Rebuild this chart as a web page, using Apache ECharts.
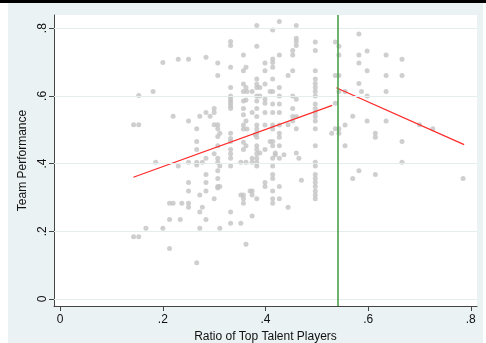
<!DOCTYPE html>
<html>
<head>
<meta charset="utf-8">
<script src="https://cdn.jsdelivr.net/npm/echarts@6/dist/echarts.min.js"></script>
<style>
  html, body { margin: 0; padding: 0; background: #fff; }
  #wrap { position: relative; width: 486px; height: 343px; overflow: hidden; background: #fff; }
  #bg { position: absolute; left: 8px; top: 3px; width: 475px; height: 340px; background: #eaf2f3; }
  #bar { position: absolute; left: 0; top: 0; width: 486px; height: 3px; background: #000; }
  #chart { position: absolute; left: 0; top: 0; width: 486px; height: 343px; }
</style>
</head>
<body>
<div id="wrap">
  <div id="bg"></div>
  <div id="bar"></div>
  <div id="chart"></div>
</div>
<script>
// Ratio columns (x) and team performance values (y) observed at each ratio
const ratioValues = [
  0.143, 0.153, 0.167, 0.181, 0.186, 0.200, 0.213, 0.220, 0.230, 0.234,
  0.237, 0.250, 0.266, 0.272, 0.277, 0.284, 0.292, 0.300, 0.307, 0.311,
  0.332, 0.352, 0.357, 0.362, 0.364, 0.370, 0.374, 0.380, 0.383, 0.389,
  0.399, 0.409, 0.414, 0.419, 0.427, 0.436, 0.444, 0.453, 0.460, 0.465,
  0.470, 0.497, 0.529, 0.536, 0.543, 0.555, 0.570, 0.582, 0.587, 0.598,
  0.614, 0.635, 0.666, 0.700, 0.726, 0.785
];
const performanceByRatio = [
  [0.515, 0.184],
  [0.515, 0.184, 0.601],
  [0.209],
  [0.613],
  [0.404],
  [0.699, 0.209],
  [0.283, 0.235, 0.149],
  [0.540, 0.283],
  [0.708, 0.393],
  [0.235],
  [0.283],
  [0.708, 0.526, 0.404, 0.344, 0.319, 0.283, 0.271],
  [0.503, 0.465, 0.442, 0.404, 0.396, 0.107],
  [0.540, 0.307, 0.257, 0.209],
  [0.404, 0.271],
  [0.714, 0.551, 0.416, 0.368, 0.344, 0.319, 0.235],
  [0.540],
  [0.563, 0.551, 0.515, 0.429, 0.296],
  [0.697, 0.660, 0.515, 0.503, 0.480, 0.453, 0.416, 0.404, 0.379, 0.356, 0.332, 0.328],
  [0.490, 0.393, 0.332, 0.209],
  [0.761, 0.749, 0.685, 0.625, 0.600, 0.592, 0.585, 0.578, 0.570, 0.563, 0.490, 0.474, 0.465, 0.442, 0.429, 0.416, 0.393, 0.257, 0.224],
  [0.224, 0.307, 0.404],
  [0.721, 0.674, 0.635, 0.613, 0.585, 0.563, 0.544, 0.514, 0.502, 0.463, 0.442, 0.307, 0.296, 0.283],
  [0.685, 0.625, 0.588, 0.526, 0.453, 0.404, 0.162],
  [0.613, 0.502],
  [0.319],
  [0.613, 0.551, 0.416, 0.404, 0.319, 0.307, 0.245],
  [0.485],
  [0.808, 0.747, 0.650, 0.635, 0.625, 0.600, 0.585, 0.563, 0.539, 0.514, 0.502, 0.490, 0.478, 0.453, 0.442, 0.429, 0.416, 0.404, 0.393, 0.296],
  [0.625, 0.600, 0.431],
  [0.697, 0.674, 0.635, 0.590, 0.578, 0.551, 0.514, 0.442, 0.344, 0.332],
  [0.613, 0.465],
  [0.795, 0.709, 0.699, 0.685, 0.650, 0.613, 0.576, 0.551, 0.514, 0.502, 0.465, 0.453, 0.416, 0.393, 0.368, 0.356, 0.319, 0.296, 0.283],
  [0.431, 0.426],
  [0.820, 0.721, 0.625, 0.600, 0.576, 0.551, 0.514, 0.490, 0.478, 0.453, 0.416, 0.332, 0.296],
  [0.426],
  [0.660, 0.515, 0.271],
  [0.734, 0.721, 0.674, 0.600, 0.563, 0.539, 0.526],
  [0.808, 0.770, 0.761, 0.749, 0.590, 0.539, 0.503, 0.431],
  [0.416],
  [0.351],
  [0.759, 0.734, 0.674, 0.650, 0.637, 0.625, 0.613, 0.600, 0.576, 0.563, 0.551, 0.539, 0.526, 0.503, 0.453, 0.404, 0.393, 0.368, 0.356, 0.344, 0.332, 0.319, 0.307, 0.296],
  [0.490],
  [0.759, 0.660, 0.578, 0.503],
  [0.747, 0.721, 0.660, 0.613, 0.503, 0.490],
  [0.613, 0.514, 0.453],
  [0.540, 0.356],
  [0.783, 0.721, 0.697, 0.637, 0.379],
  [0.613],
  [0.733, 0.674, 0.600, 0.526],
  [0.490, 0.478, 0.368],
  [0.721, 0.660, 0.613, 0.526],
  [0.708, 0.660, 0.465, 0.404],
  [0.515],
  [0.503],
  [0.356]
];
// Fitted lines (endpoints) and threshold
const fitLeft = [[0.1425, 0.3595], [0.530, 0.572]];
const fitRight = [[0.538, 0.624], [0.787, 0.456]];
const threshold = 0.538;
const xTicks = [0, 0.2, 0.4, 0.6, 0.8];
const yTicks = [0, 0.2, 0.4, 0.6, 0.8];

function tickText(v) {
  if (Math.abs(v) < 1e-9) return '0';
  return '.' + String(Math.round(v * 10));
}

const points = [];
ratioValues.forEach(function (x, i) {
  performanceByRatio[i].forEach(function (y) { points.push([x, y]); });
});

const chart = echarts.init(document.getElementById('chart'));
const font = 'Liberation Sans, Arial, Helvetica, sans-serif';
const axisColor = '#444';

chart.setOption({
  animation: false,
  backgroundColor: 'transparent',
  grid: {
    left: 54, right: 9, top: 15, bottom: 37,
    containLabel: false,
    outerBoundsMode: 'none',
    show: true, backgroundColor: '#ffffff', borderWidth: 0
  },
  xAxis: {
    type: 'value',
    min: -0.0121, max: 0.8121,
    name: 'Ratio of Top Talent Players',
    nameLocation: 'middle',
    nameGap: 21,
    nameTextStyle: { fontFamily: font, fontSize: 12, color: '#111' },
    axisLine: { show: true, onZero: false, lineStyle: { color: axisColor, width: 1 } },
    axisTick: { show: true, length: 5, customValues: xTicks, lineStyle: { color: axisColor } },
    axisLabel: {
      customValues: xTicks, margin: 8,
      fontFamily: font, fontSize: 12, color: '#111',
      formatter: tickText
    },
    splitLine: { show: false }
  },
  yAxis: {
    type: 'value',
    min: -0.0207, max: 0.839,
    name: 'Team Performance',
    nameLocation: 'middle',
    nameGap: 12,
    nameRotate: 90,
    nameTextStyle: { fontFamily: font, fontSize: 12, color: '#111' },
    axisLine: { show: true, onZero: false, lineStyle: { color: axisColor, width: 1 } },
    axisTick: { show: true, length: 5, customValues: yTicks, lineStyle: { color: axisColor } },
    axisLabel: {
      customValues: yTicks, margin: 5, rotate: 90,
      fontFamily: font, fontSize: 12, color: '#111',
      formatter: tickText
    },
    splitLine: { show: false }
  },
  series: [
    {
      type: 'scatter',
      data: points,
      symbol: 'circle',
      symbolSize: 5,
      itemStyle: { color: '#c3c3c3' },
      z: 3,
      markLine: {
        silent: true,
        symbol: 'none',
        label: { show: false },
        lineStyle: { color: '#e4eeef', width: 1, type: 'solid' },
        data: yTicks.map(function (v) { return { yAxis: v }; })
      }
    },
    {
      type: 'line',
      data: fitLeft,
      symbol: 'none',
      lineStyle: { color: '#ff2a2a', width: 1.2 },
      z: 4
    },
    {
      type: 'line',
      data: fitRight,
      symbol: 'none',
      lineStyle: { color: '#ff2a2a', width: 1.2 },
      z: 4
    },
    {
      type: 'line',
      data: [],
      z: 5,
      markLine: {
        silent: true,
        symbol: 'none',
        label: { show: false },
        lineStyle: { color: '#4aa04a', width: 1.6, type: 'solid' },
        data: [{ xAxis: threshold }]
      }
    }
  ]
});
</script>
</body>
</html>
